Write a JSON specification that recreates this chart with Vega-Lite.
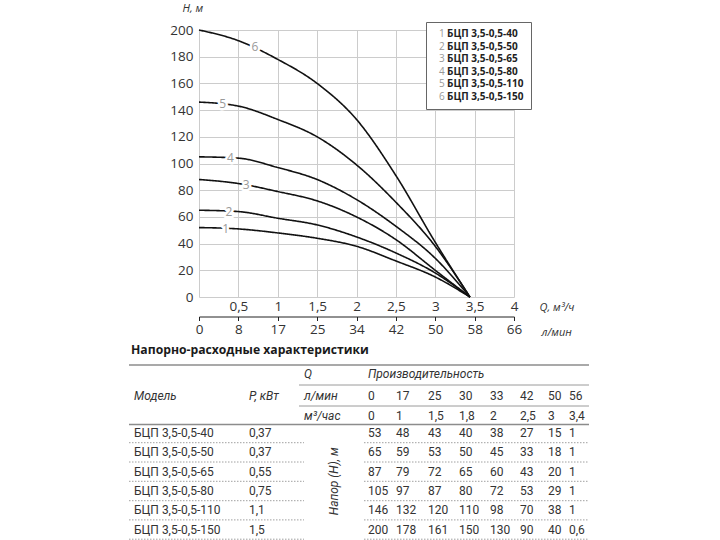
{
  "$schema": "https://vega.github.io/schema/vega-lite/v6.json",
  "padding": {"left": 128, "top": 2, "right": 0, "bottom": 0},
  "spacing": 4,
  "background": "white",
  "config": {"view": {"stroke": null}, "font": "Open Sans"},
  "datasets": {
    "models": [
      {"m": 1, "model": "БЦП 3,5-0,5-40", "p": "0,37"},
      {"m": 2, "model": "БЦП 3,5-0,5-50", "p": "0,37"},
      {"m": 3, "model": "БЦП 3,5-0,5-65", "p": "0,55"},
      {"m": 4, "model": "БЦП 3,5-0,5-80", "p": "0,75"},
      {"m": 5, "model": "БЦП 3,5-0,5-110", "p": "1,1"},
      {"m": 6, "model": "БЦП 3,5-0,5-150", "p": "1,5"}
    ],
    "curves": [
      {"m": 1, "q": 0, "h": 52}, {"m": 1, "q": 0.5, "h": 51}, {"m": 1, "q": 1, "h": 48}, {"m": 1, "q": 1.5, "h": 44}, {"m": 1, "q": 2, "h": 38}, {"m": 1, "q": 2.5, "h": 27}, {"m": 1, "q": 3, "h": 15}, {"m": 1, "q": 3.44, "h": 0},
      {"m": 2, "q": 0, "h": 65}, {"m": 2, "q": 0.5, "h": 64}, {"m": 2, "q": 1, "h": 59}, {"m": 2, "q": 1.5, "h": 54}, {"m": 2, "q": 2, "h": 45}, {"m": 2, "q": 2.5, "h": 33}, {"m": 2, "q": 3, "h": 18}, {"m": 2, "q": 3.44, "h": 0},
      {"m": 3, "q": 0, "h": 88}, {"m": 3, "q": 0.5, "h": 85}, {"m": 3, "q": 1, "h": 79}, {"m": 3, "q": 1.5, "h": 72}, {"m": 3, "q": 2, "h": 60}, {"m": 3, "q": 2.5, "h": 43}, {"m": 3, "q": 3, "h": 20}, {"m": 3, "q": 3.44, "h": 0},
      {"m": 4, "q": 0, "h": 105}, {"m": 4, "q": 0.5, "h": 104}, {"m": 4, "q": 1, "h": 97}, {"m": 4, "q": 1.5, "h": 88}, {"m": 4, "q": 2, "h": 73}, {"m": 4, "q": 2.5, "h": 53}, {"m": 4, "q": 3, "h": 29}, {"m": 4, "q": 3.44, "h": 0},
      {"m": 5, "q": 0, "h": 146}, {"m": 5, "q": 0.5, "h": 143}, {"m": 5, "q": 1, "h": 133}, {"m": 5, "q": 1.5, "h": 120}, {"m": 5, "q": 2, "h": 99}, {"m": 5, "q": 2.5, "h": 71}, {"m": 5, "q": 3, "h": 38}, {"m": 5, "q": 3.44, "h": 0},
      {"m": 6, "q": 0, "h": 200}, {"m": 6, "q": 0.5, "h": 192}, {"m": 6, "q": 1, "h": 178}, {"m": 6, "q": 1.5, "h": 160}, {"m": 6, "q": 2, "h": 133}, {"m": 6, "q": 2.5, "h": 91}, {"m": 6, "q": 3, "h": 41}, {"m": 6, "q": 3.44, "h": 0}
    ],
    "labels": [
      {"m": 1, "q": 0.34, "h": 50.7},
      {"m": 2, "q": 0.38, "h": 64},
      {"m": 3, "q": 0.6, "h": 84},
      {"m": 4, "q": 0.4, "h": 104.3},
      {"m": 5, "q": 0.3, "h": 144.3},
      {"m": 6, "q": 0.71, "h": 187}
    ],
    "flows": [
      {"lpm": 0, "m3h": "0"}, {"lpm": 17, "m3h": "1"}, {"lpm": 25, "m3h": "1,5"}, {"lpm": 30, "m3h": "1,8"},
      {"lpm": 33, "m3h": "2"}, {"lpm": 42, "m3h": "2,5"}, {"lpm": 50, "m3h": "3"}, {"lpm": 56, "m3h": "3,4"}
    ],
    "heads": [
      {"m": 1, "lpm": 0, "h": "53"}, {"m": 1, "lpm": 17, "h": "48"}, {"m": 1, "lpm": 25, "h": "43"}, {"m": 1, "lpm": 30, "h": "40"}, {"m": 1, "lpm": 33, "h": "38"}, {"m": 1, "lpm": 42, "h": "27"}, {"m": 1, "lpm": 50, "h": "15"}, {"m": 1, "lpm": 56, "h": "1"},
      {"m": 2, "lpm": 0, "h": "65"}, {"m": 2, "lpm": 17, "h": "59"}, {"m": 2, "lpm": 25, "h": "53"}, {"m": 2, "lpm": 30, "h": "50"}, {"m": 2, "lpm": 33, "h": "45"}, {"m": 2, "lpm": 42, "h": "33"}, {"m": 2, "lpm": 50, "h": "18"}, {"m": 2, "lpm": 56, "h": "1"},
      {"m": 3, "lpm": 0, "h": "87"}, {"m": 3, "lpm": 17, "h": "79"}, {"m": 3, "lpm": 25, "h": "72"}, {"m": 3, "lpm": 30, "h": "65"}, {"m": 3, "lpm": 33, "h": "60"}, {"m": 3, "lpm": 42, "h": "43"}, {"m": 3, "lpm": 50, "h": "20"}, {"m": 3, "lpm": 56, "h": "1"},
      {"m": 4, "lpm": 0, "h": "105"}, {"m": 4, "lpm": 17, "h": "97"}, {"m": 4, "lpm": 25, "h": "87"}, {"m": 4, "lpm": 30, "h": "80"}, {"m": 4, "lpm": 33, "h": "72"}, {"m": 4, "lpm": 42, "h": "53"}, {"m": 4, "lpm": 50, "h": "29"}, {"m": 4, "lpm": 56, "h": "1"},
      {"m": 5, "lpm": 0, "h": "146"}, {"m": 5, "lpm": 17, "h": "132"}, {"m": 5, "lpm": 25, "h": "120"}, {"m": 5, "lpm": 30, "h": "110"}, {"m": 5, "lpm": 33, "h": "98"}, {"m": 5, "lpm": 42, "h": "70"}, {"m": 5, "lpm": 50, "h": "38"}, {"m": 5, "lpm": 56, "h": "1"},
      {"m": 6, "lpm": 0, "h": "200"}, {"m": 6, "lpm": 17, "h": "178"}, {"m": 6, "lpm": 25, "h": "161"}, {"m": 6, "lpm": 30, "h": "150"}, {"m": 6, "lpm": 33, "h": "130"}, {"m": 6, "lpm": 42, "h": "90"}, {"m": 6, "lpm": 50, "h": "40"}, {"m": 6, "lpm": 56, "h": "0,6"}
    ]
  },
  "vconcat": [
    {
      "width": 315,
      "height": 267,
      "resolve": {"axis": {"x": "independent"}},
      "encoding": {
        "y": {
          "field": "h", "type": "quantitative",
          "scale": {"domain": [0, 200], "nice": false},
          "axis": {
            "values": [0, 20, 40, 60, 80, 100, 120, 140, 160, 180, 200],
            "domain": false, "ticks": false, "tickSize": 0, "labelPadding": 6,
            "grid": true, "gridColor": "#cccccc", "gridWidth": 1,
            "labelFont": "Open Sans", "labelFontSize": 13.5, "labelColor": "#333333",
            "labelFlush": false, "labelOverlap": false,
            "title": "H, м", "titleAngle": 0, "titleX": -17, "titleY": -22, "titleAlign": "left", "titleBaseline": "middle",
            "titleFont": "Open Sans", "titleFontStyle": "italic", "titleFontWeight": "normal", "titleFontSize": 11, "titleColor": "#333333"
          }
        }
      },
      "layer": [
        {
          "data": {"name": "curves"},
          "transform": [{"lookup": "m", "from": {"data": {"name": "models"}, "key": "m", "fields": ["model"]}}],
          "mark": {"type": "line", "interpolate": "monotone", "strokeWidth": 1.6},
          "encoding": {
            "x": {
              "field": "q", "type": "quantitative",
              "scale": {"domain": [0, 4], "nice": false, "zero": false},
              "axis": {
                "orient": "bottom", "values": [0, 0.5, 1, 1.5, 2, 2.5, 3, 3.5, 4],
                "labelExpr": "datum.value == 0 ? '' : replace(format(datum.value, '~g'), '.', ',')",
                "domain": false, "ticks": false, "tickSize": 0, "labelPadding": 2,
                "grid": true, "gridColor": "#cccccc", "gridWidth": 1,
                "labelFont": "Open Sans", "labelFontSize": 13.5, "labelColor": "#333333",
                "labelFlush": false, "labelOverlap": false,
                "title": "Q, м³/ч", "titleX": 340, "titleY": 10, "titleAlign": "left", "titleBaseline": "middle", "titleAngle": 0,
                "titleFont": "Open Sans", "titleFontStyle": "italic", "titleFontWeight": "normal", "titleFontSize": 11, "titleColor": "#333333"
              }
            },
            "color": {
              "field": "model", "type": "nominal",
              "scale": {"domain": ["БЦП 3,5-0,5-40", "БЦП 3,5-0,5-50", "БЦП 3,5-0,5-65", "БЦП 3,5-0,5-80", "БЦП 3,5-0,5-110", "БЦП 3,5-0,5-150"], "range": ["#111111"]},
              "legend": {
                "title": null, "orient": "none", "legendX": 227, "legendY": -8,
                "strokeColor": "#666666", "fillColor": "white", "padding": 7, "cornerRadius": 0,
                "symbolSize": 0, "symbolOpacity": 0, "symbolStrokeWidth": 0, "labelOffset": 4,
                "labelFont": "Open Sans", "labelFontWeight": "bold", "labelFontSize": 10, "labelColor": "#222222",
                "rowPadding": 2.6
              }
            },
            "strokeDash": {
              "field": "m", "type": "nominal",
              "scale": {"range": [[1, 0]]},
              "legend": {
                "title": null, "orient": "none", "legendX": 223, "legendY": -8, "padding": 7,
                "symbolSize": 0, "symbolOpacity": 0, "symbolStrokeWidth": 0, "labelOffset": 0,
                "labelFont": "Open Sans", "labelFontSize": 10, "labelColor": "#999999",
                "rowPadding": 2.6
              }
            },
            "order": {"field": "q", "type": "quantitative"}
          }
        },
        {
          "data": {"name": "labels"},
          "mark": {"type": "text", "font": "Open Sans", "fontSize": 12, "fill": "white", "stroke": "white", "strokeWidth": 5, "strokeJoin": "round"},
          "encoding": {
            "x": {
              "field": "q", "type": "quantitative",
              "axis": {
                "orient": "bottom", "offset": 19.5, "values": [0, 0.5, 1, 1.5, 2, 2.5, 3, 3.5, 4],
                "labelExpr": "['0','8','17','25','34','42','50','58','66'][round(datum.value*2)]",
                "grid": false, "domain": true, "domainColor": "#222222", "domainWidth": 1,
                "ticks": true, "tickColor": "#222222", "tickSize": 4, "tickWidth": 1, "labelPadding": 1.5,
                "labelFont": "Open Sans", "labelFontSize": 13.5, "labelColor": "#333333",
                "labelFlush": false, "labelOverlap": false,
                "title": "л/мин", "titleX": 342, "titleY": 15.5, "titleAlign": "left", "titleBaseline": "middle", "titleAngle": 0,
                "titleFont": "Open Sans", "titleFontStyle": "italic", "titleFontWeight": "normal", "titleFontSize": 11, "titleColor": "#333333"
              }
            },
            "text": {"field": "m", "type": "nominal"}
          }
        },
        {
          "data": {"name": "labels"},
          "mark": {"type": "text", "font": "Open Sans", "fontSize": 12, "fill": "#9a9a9a"},
          "encoding": {
            "x": {"field": "q", "type": "quantitative", "axis": null},
            "text": {"field": "m", "type": "nominal"}
          }
        }
      ]
    },
    {
      "width": 390,
      "height": 200,
      "data": {"values": [{}]},
      "layer": [
        {
          "mark": {"type": "rule", "color": "#8c8c8c", "strokeWidth": 1.5},
          "encoding": {
            "x": {"datum": -9, "type": "quantitative", "axis": null,
              "scale": {"type": "linear", "nice": false, "zero": false,
                "domain": [-9, -8, -7, -6, -5, -4, -3, 0, 17, 25, 30, 33, 42, 50, 56, 60],
                "range": [-70, -65, 50, 100, 105, 135, 165, 169, 197, 229, 260, 291, 321, 349, 370, 390]}},
            "x2": {"datum": 60},
            "y": {"datum": -2.375, "type": "quantitative", "axis": null,
              "scale": {"type": "linear", "nice": false, "zero": false,
                "domain": [-3, -2, -1, 0, 1, 2, 3, 4, 5, 6],
                "range": [9, 33, 55, 75, 92, 111.3, 130.6, 150, 169.2, 188.5]}}
          }
        },
        {
          "mark": {"type": "rule", "color": "#9a9a9a", "strokeWidth": 1},
          "encoding": {
            "x": {"datum": -6, "type": "quantitative", "axis": null}, "x2": {"datum": 60},
            "y": {"datum": -1.5, "type": "quantitative", "axis": null}
          }
        },
        {
          "mark": {"type": "rule", "color": "#9a9a9a", "strokeWidth": 1},
          "encoding": {
            "x": {"datum": -6, "type": "quantitative", "axis": null}, "x2": {"datum": 60},
            "y": {"datum": -0.5, "type": "quantitative", "axis": null}
          }
        },
        {
          "mark": {"type": "rule", "color": "#8c8c8c", "strokeWidth": 1.5},
          "encoding": {
            "x": {"datum": -9, "type": "quantitative", "axis": null}, "x2": {"datum": 60},
            "y": {"datum": 0.5, "type": "quantitative", "axis": null}
          }
        },
        {
          "data": {"name": "models"},
          "mark": {"type": "rule", "color": "#a0a0a0", "strokeWidth": 1, "strokeDash": [1.5, 1.5], "yOffset": 9.7},
          "encoding": {
            "x": {"datum": -9, "type": "quantitative", "axis": null}, "x2": {"datum": -5},
            "y": {"field": "m", "type": "quantitative", "axis": null}
          }
        },
        {
          "data": {"name": "models"},
          "mark": {"type": "rule", "color": "#a0a0a0", "strokeWidth": 1, "strokeDash": [1.5, 1.5], "yOffset": 9.7},
          "encoding": {
            "x": {"datum": -3, "type": "quantitative", "axis": null}, "x2": {"datum": 60},
            "y": {"field": "m", "type": "quantitative", "axis": null}
          }
        },
        {
          "mark": {"type": "text", "text": "Напорно-расходные характеристики", "font": "Open Sans", "fontWeight": "bold", "fontSize": 12.2, "color": "#1a1a1a", "align": "left", "baseline": "middle", "dx": 2},
          "encoding": {
            "x": {"datum": -9, "type": "quantitative", "axis": null},
            "y": {"datum": -3, "type": "quantitative", "axis": null}
          }
        },
        {
          "mark": {"type": "text", "text": "Модель", "font": "Roboto", "fontStyle": "italic", "fontSize": 12, "color": "#333333", "align": "left", "baseline": "middle"},
          "encoding": {
            "x": {"datum": -8, "type": "quantitative", "axis": null},
            "y": {"datum": -1, "type": "quantitative", "axis": null}
          }
        },
        {
          "mark": {"type": "text", "text": "P, кВт", "font": "Roboto", "fontStyle": "italic", "fontSize": 12, "color": "#333333", "align": "left", "baseline": "middle"},
          "encoding": {
            "x": {"datum": -7, "type": "quantitative", "axis": null},
            "y": {"datum": -1, "type": "quantitative", "axis": null}
          }
        },
        {
          "mark": {"type": "text", "text": "Q", "font": "Roboto", "fontStyle": "italic", "fontSize": 12, "color": "#333333", "align": "left", "baseline": "middle"},
          "encoding": {
            "x": {"datum": -5, "type": "quantitative", "axis": null},
            "y": {"datum": -2, "type": "quantitative", "axis": null}
          }
        },
        {
          "mark": {"type": "text", "text": "Производительность", "font": "Roboto", "fontStyle": "italic", "fontSize": 12, "color": "#333333", "align": "left", "baseline": "middle"},
          "encoding": {
            "x": {"datum": 0, "type": "quantitative", "axis": null},
            "y": {"datum": -2, "type": "quantitative", "axis": null}
          }
        },
        {
          "mark": {"type": "text", "text": "л/мин", "font": "Roboto", "fontStyle": "italic", "fontSize": 12, "color": "#333333", "align": "left", "baseline": "middle"},
          "encoding": {
            "x": {"datum": -5, "type": "quantitative", "axis": null},
            "y": {"datum": -1, "type": "quantitative", "axis": null}
          }
        },
        {
          "mark": {"type": "text", "text": "м³/час", "font": "Roboto", "fontStyle": "italic", "fontSize": 12, "color": "#333333", "align": "left", "baseline": "middle"},
          "encoding": {
            "x": {"datum": -5, "type": "quantitative", "axis": null},
            "y": {"datum": 0, "type": "quantitative", "axis": null}
          }
        },
        {
          "mark": {"type": "text", "text": "Напор (Н), м", "font": "Roboto", "fontStyle": "italic", "fontSize": 12, "color": "#333333", "align": "center", "baseline": "middle", "angle": 270},
          "encoding": {
            "x": {"datum": -4, "type": "quantitative", "axis": null},
            "y": {"datum": 3.5, "type": "quantitative", "axis": null}
          }
        },
        {
          "data": {"name": "flows"},
          "mark": {"type": "text", "font": "Roboto", "fontSize": 12, "color": "#333333", "align": "left", "baseline": "middle"},
          "encoding": {
            "x": {"field": "lpm", "type": "quantitative", "axis": null},
            "y": {"datum": -1, "type": "quantitative", "axis": null},
            "text": {"field": "lpm", "type": "nominal"}
          }
        },
        {
          "data": {"name": "flows"},
          "mark": {"type": "text", "font": "Roboto", "fontSize": 12, "color": "#333333", "align": "left", "baseline": "middle"},
          "encoding": {
            "x": {"field": "lpm", "type": "quantitative", "axis": null},
            "y": {"datum": 0, "type": "quantitative", "axis": null},
            "text": {"field": "m3h", "type": "nominal"}
          }
        },
        {
          "data": {"name": "models"},
          "mark": {"type": "text", "font": "Roboto", "fontSize": 12, "color": "#333333", "align": "left", "baseline": "middle"},
          "encoding": {
            "x": {"datum": -8, "type": "quantitative", "axis": null},
            "y": {"field": "m", "type": "quantitative", "axis": null},
            "text": {"field": "model", "type": "nominal"}
          }
        },
        {
          "data": {"name": "models"},
          "mark": {"type": "text", "font": "Roboto", "fontSize": 12, "color": "#333333", "align": "left", "baseline": "middle"},
          "encoding": {
            "x": {"datum": -7, "type": "quantitative", "axis": null},
            "y": {"field": "m", "type": "quantitative", "axis": null},
            "text": {"field": "p", "type": "nominal"}
          }
        },
        {
          "data": {"name": "heads"},
          "mark": {"type": "text", "font": "Roboto", "fontSize": 12, "color": "#333333", "align": "left", "baseline": "middle"},
          "encoding": {
            "x": {"field": "lpm", "type": "quantitative", "axis": null},
            "y": {"field": "m", "type": "quantitative", "axis": null},
            "text": {"field": "h", "type": "nominal"}
          }
        }
      ]
    }
  ]
}
